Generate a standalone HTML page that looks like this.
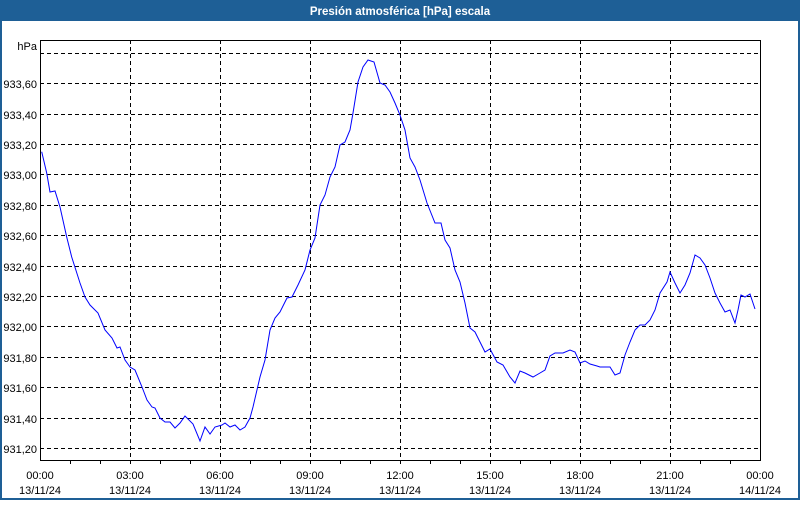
<!DOCTYPE html>
<html><head><meta charset="utf-8"><style>
body{margin:0;width:800px;height:500px;overflow:hidden;background:#fff;font-family:"Liberation Sans",sans-serif}
</style></head><body>
<svg width="800" height="500" xmlns="http://www.w3.org/2000/svg" font-family="Liberation Sans, sans-serif" font-size="11">
<rect x="0" y="0" width="800" height="500" fill="#1e5f96"/>
<rect x="2" y="21" width="796" height="477" fill="#fff"/>
<text x="400" y="15" fill="#fff" font-weight="bold" font-size="11.5" text-anchor="middle">Presión atmosférica [hPa] escala</text>
<g stroke="#000" stroke-width="1" stroke-dasharray="4,3">
<line x1="40" y1="53.5" x2="760" y2="53.5"/><line x1="40" y1="83.5" x2="760" y2="83.5"/><line x1="40" y1="114.5" x2="760" y2="114.5"/><line x1="40" y1="144.5" x2="760" y2="144.5"/><line x1="40" y1="174.5" x2="760" y2="174.5"/><line x1="40" y1="205.5" x2="760" y2="205.5"/><line x1="40" y1="235.5" x2="760" y2="235.5"/><line x1="40" y1="266.5" x2="760" y2="266.5"/><line x1="40" y1="296.5" x2="760" y2="296.5"/><line x1="40" y1="326.5" x2="760" y2="326.5"/><line x1="40" y1="357.5" x2="760" y2="357.5"/><line x1="40" y1="387.5" x2="760" y2="387.5"/><line x1="40" y1="418.5" x2="760" y2="418.5"/><line x1="40" y1="448.5" x2="760" y2="448.5"/>
<line x1="130.5" y1="40" x2="130.5" y2="460"/><line x1="220.5" y1="40" x2="220.5" y2="460"/><line x1="310.5" y1="40" x2="310.5" y2="460"/><line x1="400.5" y1="40" x2="400.5" y2="460"/><line x1="490.5" y1="40" x2="490.5" y2="460"/><line x1="580.5" y1="40" x2="580.5" y2="460"/><line x1="670.5" y1="40" x2="670.5" y2="460"/>
</g>
<rect x="40.5" y="40.5" width="720" height="420" fill="none" stroke="#000"/>
<g stroke="#000">
<line x1="70.5" y1="460" x2="70.5" y2="464"/><line x1="100.5" y1="460" x2="100.5" y2="464"/><line x1="130.5" y1="460" x2="130.5" y2="464"/><line x1="160.5" y1="460" x2="160.5" y2="464"/><line x1="190.5" y1="460" x2="190.5" y2="464"/><line x1="220.5" y1="460" x2="220.5" y2="464"/><line x1="250.5" y1="460" x2="250.5" y2="464"/><line x1="280.5" y1="460" x2="280.5" y2="464"/><line x1="310.5" y1="460" x2="310.5" y2="464"/><line x1="340.5" y1="460" x2="340.5" y2="464"/><line x1="370.5" y1="460" x2="370.5" y2="464"/><line x1="400.5" y1="460" x2="400.5" y2="464"/><line x1="430.5" y1="460" x2="430.5" y2="464"/><line x1="460.5" y1="460" x2="460.5" y2="464"/><line x1="490.5" y1="460" x2="490.5" y2="464"/><line x1="520.5" y1="460" x2="520.5" y2="464"/><line x1="550.5" y1="460" x2="550.5" y2="464"/><line x1="580.5" y1="460" x2="580.5" y2="464"/><line x1="610.5" y1="460" x2="610.5" y2="464"/><line x1="640.5" y1="460" x2="640.5" y2="464"/><line x1="670.5" y1="460" x2="670.5" y2="464"/><line x1="700.5" y1="460" x2="700.5" y2="464"/><line x1="730.5" y1="460" x2="730.5" y2="464"/>
</g>
<g fill="#000" text-anchor="end">
<text x="37" y="50">hPa</text>
<text x="37" y="88">933,60</text><text x="37" y="119">933,40</text><text x="37" y="149">933,20</text><text x="37" y="179">933,00</text><text x="37" y="210">932,80</text><text x="37" y="240">932,60</text><text x="37" y="271">932,40</text><text x="37" y="301">932,20</text><text x="37" y="331">932,00</text><text x="37" y="362">931,80</text><text x="37" y="392">931,60</text><text x="37" y="423">931,40</text><text x="37" y="453">931,20</text>
</g>
<g fill="#000" text-anchor="middle">
<text x="40" y="479">00:00</text><text x="40" y="494">13/11/24</text>
<text x="130" y="479">03:00</text><text x="130" y="494">13/11/24</text>
<text x="220" y="479">06:00</text><text x="220" y="494">13/11/24</text>
<text x="310" y="479">09:00</text><text x="310" y="494">13/11/24</text>
<text x="400" y="479">12:00</text><text x="400" y="494">13/11/24</text>
<text x="490" y="479">15:00</text><text x="490" y="494">13/11/24</text>
<text x="580" y="479">18:00</text><text x="580" y="494">13/11/24</text>
<text x="670" y="479">21:00</text><text x="670" y="494">13/11/24</text>
<text x="760" y="479">00:00</text><text x="760" y="494">14/11/24</text>
</g>
<polyline fill="none" stroke="#0000ff" stroke-width="1" points="41.7,151.7 46.7,173 50,192 55,191 60,207 66.7,237 71.7,257 80,283 85,297 90,305 98,313 105,330 112,338 117,348 120,347 125,360 130,367 135,370 142,387 147,400 152,407 155,408 160,418 165,422 170,422 175,428 180,423 185,416 193,424 200,441 205,427 210,434 215,427 222,425 225,423 230,427 235,425 240,430 245,427 250,418 253,407 260,377 265,360 270,330 275,318 280,312 287,298 292,297 298,285 305,270 310,250 315,238 320,205 325,195 330,177 335,167 340,145 345,142 350,130 353,113 358,82 363,67 368,60 374,62 380,83 385,85 390,92 395,103 400,115 405,130 410,158 415,167 420,180 427,203 435,223 441,223 445,240 450,248 455,270 460,282 465,303 470,328 475,332 480,342 485,352 490,349 497,362 503,365 510,377 515,383 520,371 525,373 533,377 540,373 545,370 550,356 555,353 563,353 570,350 575,352 580,363 585,361 590,364 597,366 600,367 610,367 615,375 620,373 625,355 630,342 635,330 640,325 645,325 650,320 655,310 660,293 667,282 670,272 675,283 680,293 685,285 690,273 695,255 700,258 705,265 710,278 715,293 720,303 725,312 730,310 735,323 738,310 741,295 745,297 750,294 752,300 755,309"/>
</svg>
</body></html>
